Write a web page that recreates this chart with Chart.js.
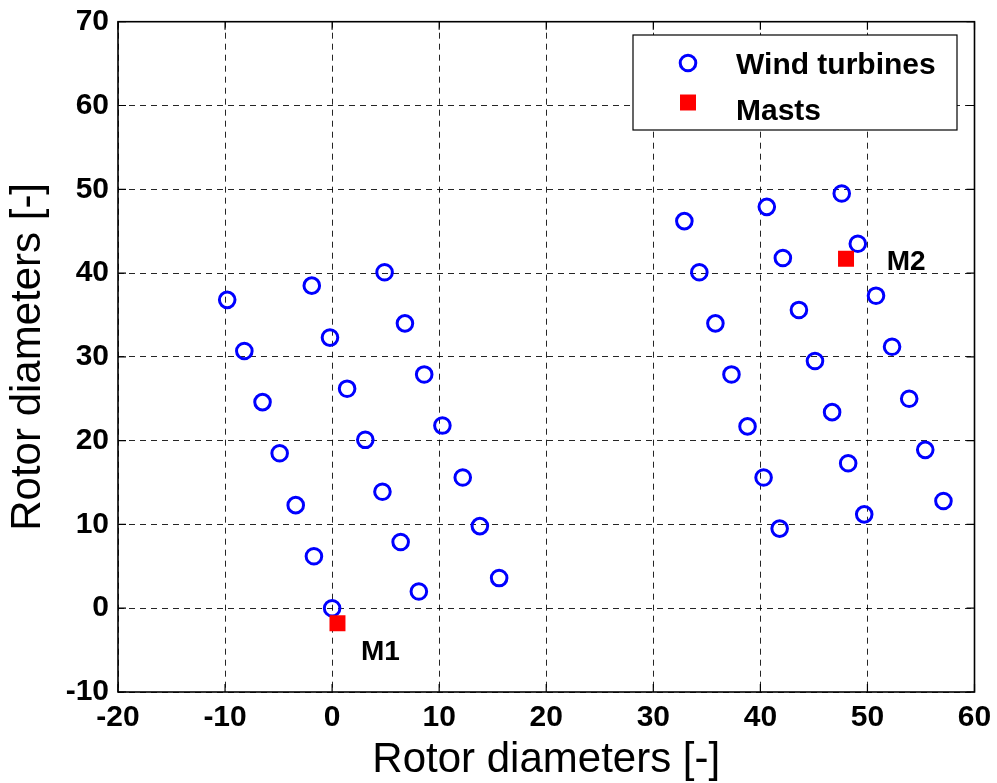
<!DOCTYPE html>
<html>
<head>
<meta charset="utf-8">
<title>Wind farm layout</title>
<script src="https://cdn.jsdelivr.net/npm/chart.js@4.4.1/dist/chart.umd.min.js"></script>
<style>
    html, body { margin: 0; padding: 0; background: #fff; }
    canvas { display: block; }
</style>
</head>
<body>
<canvas id="layout-chart" width="997" height="783"></canvas>
<script>
// Turbine and met-mast positions, in rotor diameters.
const turbineX = [
    -9.8, -1.9, 4.9, 6.8, -0.2, -8.2, 8.6, 1.4, -6.5, 10.3, 3.1,
    -4.9, 12.2, 4.7, -3.4, 13.8, 6.4, -1.7, 15.6, 8.1, 0.0,
    32.9, 40.6, 47.6, 49.1, 42.1, 34.3, 50.8, 43.6, 35.8, 52.3, 45.1,
    37.3, 53.9, 46.7, 38.8, 55.4, 48.2, 40.3, 57.1, 49.7, 41.8,
];
const turbineY = [
    36.8, 38.5, 40.1, 34.0, 32.3, 30.7, 27.9, 26.2, 24.6, 21.8, 20.1,
    18.5, 15.6, 13.9, 12.3, 9.8, 7.9, 6.2, 3.6, 2.0, 0.0,
    46.2, 47.9, 49.5, 43.5, 41.8, 40.1, 37.3, 35.6, 34.0, 31.2, 29.5,
    27.9, 25.0, 23.4, 21.7, 18.9, 17.3, 15.6, 12.8, 11.2, 9.5,
];
const mastX = [0.5, 48.0];
const mastY = [-1.8, 41.7];
const mastNames = ['M1', 'M2'];

const xTicks = [-20, -10, 0, 10, 20, 30, 40, 50, 60];
const yTicks = [-10, 0, 10, 20, 30, 40, 50, 60, 70];

// where the mast names sit (left edge / baseline, data units)
const mastLabelAt = [
    { x: 2.7, y: -6.2 },
    { x: 51.8, y: 40.4 },
];

const FONT = "'Liberation Sans', Arial, Helvetica, sans-serif";

function points(xs, ys) {
    return xs.map((x, i) => ({ x: x, y: ys[i] }));
}

function drawMarker(ctx, ds, x, y) {
    ctx.save();
    ctx.beginPath();
    if (ds.pointStyle === 'circle') {
        ctx.strokeStyle = ds.pointBorderColor;
        ctx.lineWidth = ds.pointBorderWidth;
        ctx.arc(x, y, ds.pointRadius, 0, Math.PI * 2);
        ctx.stroke();
    } else {
        const s = Math.SQRT1_2 * ds.pointRadius;
        ctx.fillStyle = ds.pointBackgroundColor;
        ctx.fillRect(x - s, y - s, 2 * s, 2 * s);
    }
    ctx.restore();
}

// MATLAB-style box: frame, inward ticks on all sides, legend inside the axes
const boxPlugin = {
    id: 'box',
    afterDraw(chart) {
        const { ctx, chartArea: a, scales } = chart;
        const tick = 8;
        ctx.save();
        ctx.strokeStyle = '#000';
        ctx.lineWidth = 1.2;
        ctx.beginPath();
        xTicks.forEach((v) => {
            const px = scales.x.getPixelForValue(v);
            ctx.moveTo(px, a.bottom); ctx.lineTo(px, a.bottom - tick);
            ctx.moveTo(px, a.top); ctx.lineTo(px, a.top + tick);
        });
        yTicks.forEach((v) => {
            const py = scales.y.getPixelForValue(v);
            ctx.moveTo(a.left, py); ctx.lineTo(a.left + tick, py);
            ctx.moveTo(a.right, py); ctx.lineTo(a.right - tick, py);
        });
        ctx.stroke();
        ctx.lineWidth = 1.6;
        ctx.strokeRect(a.left, a.top, a.right - a.left, a.bottom - a.top);

        // mast names
        ctx.fillStyle = '#000';
        ctx.font = 'bold 28px ' + FONT;
        ctx.textBaseline = 'alphabetic';
        ctx.textAlign = 'left';
        mastNames.forEach((name, i) => {
            ctx.fillText(name,
                scales.x.getPixelForValue(mastLabelAt[i].x),
                scales.y.getPixelForValue(mastLabelAt[i].y));
        });

        // legend
        const lw = 324, lh = 95;
        const lx = a.right - 17.5 - lw, ly = a.top + 13.3;
        ctx.fillStyle = '#fff';
        ctx.fillRect(lx, ly, lw, lh);
        ctx.lineWidth = 1.2;
        ctx.strokeStyle = '#000';
        ctx.strokeRect(lx, ly, lw, lh);

        const rows = [
            { ds: chart.data.datasets[0], my: ly + 28, ty: ly + 38.5 },
            { ds: chart.data.datasets[1], my: ly + 67.5, ty: ly + 85 },
        ];
        rows.forEach((r) => {
            drawMarker(ctx, r.ds, lx + 55, r.my);
            ctx.fillStyle = '#000';
            ctx.font = 'bold 30px ' + FONT;
            ctx.fillText(r.ds.label, lx + 103, r.ty);
        });
        ctx.restore();
    },
};

function axis(ticks, min, max, fitKey, fitSize, titlePadding) {
    return {
        type: 'linear',
        min: min,
        max: max,
        afterBuildTicks: (s) => { s.ticks = ticks.map((v) => ({ value: v })); },
        afterFit: (s) => {
            s[fitKey] = fitSize;
            // keep end labels from pushing the plot box inwards
            s.paddingTop = 0; s.paddingBottom = 0;
            s.paddingLeft = 0; s.paddingRight = 0;
        },
        ticks: {
            color: '#000',
            font: { family: FONT, size: 30, weight: 'bold', lineHeight: 1.2 },
            padding: fitKey === 'height' ? 8 : 9,
            autoSkip: false,
            maxRotation: 0,
        },
        grid: {
            color: 'rgba(0,0,0,0.85)',
            lineWidth: 1,
            drawTicks: false,
            borderDash: [6, 5],
        },
        border: { display: false, dash: [6, 5] },
        title: {
            display: true,
            text: 'Rotor diameters [-]',
            color: '#000',
            font: { family: FONT, size: 42, weight: 'normal', lineHeight: 1 },
            padding: titlePadding,
        },
    };
}

new Chart(document.getElementById('layout-chart'), {
    type: 'scatter',
    data: {
        datasets: [
            {
                label: 'Wind turbines',
                data: points(turbineX, turbineY),
                pointStyle: 'circle',
                pointRadius: 7.8,
                pointBorderWidth: 3,
                pointBorderColor: '#0000ff',
                pointBackgroundColor: 'rgba(0,0,0,0)',
                borderColor: '#0000ff',
                backgroundColor: 'rgba(0,0,0,0)',
                order: 1,
            },
            {
                label: 'Masts',
                data: points(mastX, mastY),
                pointStyle: 'rect',
                pointRadius: 11.3,
                pointBorderWidth: 0,
                pointBorderColor: '#ff0000',
                pointBackgroundColor: '#ff0000',
                borderColor: '#ff0000',
                backgroundColor: '#ff0000',
                order: 0,
            },
        ],
    },
    options: {
        responsive: false,
        animation: false,
        events: [],
        devicePixelRatio: 1,
        layout: { padding: { left: 0, right: 22.5, top: 21.7, bottom: 0 } },
        plugins: {
            legend: { display: false },
            tooltip: { enabled: false },
        },
        scales: {
            x: axis(xTicks, -20, 60, 'height', 91, { top: 0, bottom: 2 }),
            y: axis(yTicks, -10, 70, 'width', 118, { top: 7, bottom: 0 }),
        },
    },
    plugins: [boxPlugin],
});
</script>
</body>
</html>
